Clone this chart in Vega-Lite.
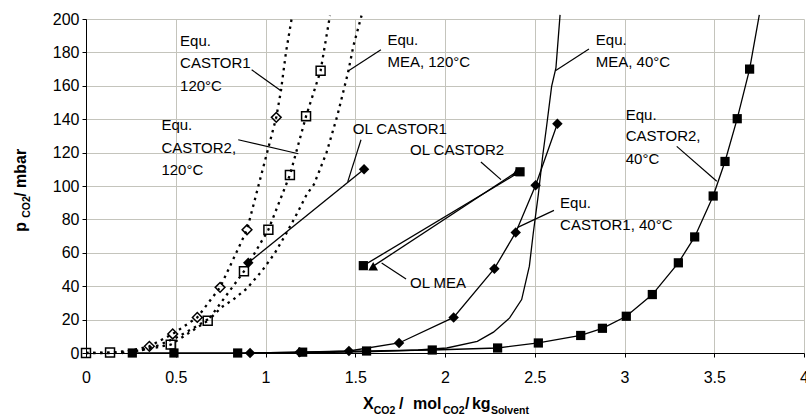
{
  "$schema": "https://vega.github.io/schema/vega-lite/v6.json",
  "width": 718,
  "height": 334,
  "autosize": {"type": "none"},
  "padding": {"left": 86, "top": 19, "right": 2, "bottom": 65},
  "background": "white",
  "config": {
    "view": {"stroke": null},
    "font": "Liberation Sans",
    "axis": {
      "gridColor": "#c4c4bc",
      "gridWidth": 1,
      "domainColor": "black",
      "domainWidth": 1,
      "tickColor": "black",
      "tickSize": 4,
      "labelColor": "black",
      "labelFont": "Liberation Sans",
      "labelFontSize": 16,
      "labelOverlap": false
    }
  },
  "datasets": {
    "curves": [
      {"s": "C2_40", "x": 0.258, "y": 0, "k": "sq"},
      {"s": "C2_40", "x": 0.49, "y": 0, "k": "sq"},
      {"s": "C2_40", "x": 0.845, "y": 0, "k": "sq"},
      {"s": "C2_40", "x": 1.207, "y": 0.5, "k": "sq"},
      {"s": "C2_40", "x": 1.563, "y": 1.2, "k": "sq"},
      {"s": "C2_40", "x": 1.929, "y": 1.8, "k": "sq"},
      {"s": "C2_40", "x": 2.293, "y": 3, "k": "sq"},
      {"s": "C2_40", "x": 2.52, "y": 6, "k": "sq"},
      {"s": "C2_40", "x": 2.756, "y": 10.5, "k": "sq"},
      {"s": "C2_40", "x": 2.877, "y": 14.8, "k": "sq"},
      {"s": "C2_40", "x": 3.01, "y": 22, "k": "sq"},
      {"s": "C2_40", "x": 3.155, "y": 35, "k": "sq"},
      {"s": "C2_40", "x": 3.3, "y": 54, "k": "sq"},
      {"s": "C2_40", "x": 3.391, "y": 69.5, "k": "sq"},
      {"s": "C2_40", "x": 3.494, "y": 94, "k": "sq"},
      {"s": "C2_40", "x": 3.56, "y": 114.7, "k": "sq"},
      {"s": "C2_40", "x": 3.628, "y": 140.3, "k": "sq"},
      {"s": "C2_40", "x": 3.697, "y": 170, "k": "sq"},
      {"s": "C2_40", "x": 3.751, "y": 202.5, "k": ""},

      {"s": "C1_40", "x": 0.914, "y": 0, "k": "di"},
      {"s": "C1_40", "x": 1.19, "y": 0.5, "k": "di"},
      {"s": "C1_40", "x": 1.465, "y": 1.2, "k": "di"},
      {"s": "C1_40", "x": 1.744, "y": 6, "k": "di"},
      {"s": "C1_40", "x": 2.048, "y": 21.3, "k": "di"},
      {"s": "C1_40", "x": 2.275, "y": 50.5, "k": "di"},
      {"s": "C1_40", "x": 2.394, "y": 72.2, "k": "di"},
      {"s": "C1_40", "x": 2.505, "y": 100.4, "k": "di"},
      {"s": "C1_40", "x": 2.626, "y": 137.3, "k": "di"},

      {"s": "MEA_40", "x": 0.9, "y": 0, "k": ""},
      {"s": "MEA_40", "x": 1.3, "y": 0.3, "k": ""},
      {"s": "MEA_40", "x": 1.6, "y": 0.8, "k": ""},
      {"s": "MEA_40", "x": 1.85, "y": 1.8, "k": ""},
      {"s": "MEA_40", "x": 2.01, "y": 3, "k": ""},
      {"s": "MEA_40", "x": 2.18, "y": 7, "k": ""},
      {"s": "MEA_40", "x": 2.27, "y": 12.5, "k": ""},
      {"s": "MEA_40", "x": 2.36, "y": 21, "k": ""},
      {"s": "MEA_40", "x": 2.427, "y": 32, "k": ""},
      {"s": "MEA_40", "x": 2.47, "y": 52, "k": ""},
      {"s": "MEA_40", "x": 2.492, "y": 72, "k": ""},
      {"s": "MEA_40", "x": 2.52, "y": 95, "k": ""},
      {"s": "MEA_40", "x": 2.544, "y": 117.8, "k": ""},
      {"s": "MEA_40", "x": 2.566, "y": 135.8, "k": ""},
      {"s": "MEA_40", "x": 2.594, "y": 159.7, "k": ""},
      {"s": "MEA_40", "x": 2.618, "y": 170.7, "k": ""},
      {"s": "MEA_40", "x": 2.641, "y": 202.5, "k": ""},

      {"s": "C1_120", "x": 0, "y": 0, "k": ""},
      {"s": "C1_120", "x": 0.134, "y": 0, "k": ""},
      {"s": "C1_120", "x": 0.23, "y": 1, "k": ""},
      {"s": "C1_120", "x": 0.353, "y": 4, "k": "odi"},
      {"s": "C1_120", "x": 0.483, "y": 11.4, "k": "odi"},
      {"s": "C1_120", "x": 0.62, "y": 21.3, "k": "odi"},
      {"s": "C1_120", "x": 0.747, "y": 39.3, "k": "odi"},
      {"s": "C1_120", "x": 0.897, "y": 73.8, "k": "odi"},
      {"s": "C1_120", "x": 1.06, "y": 141.1, "k": "odi"},
      {"s": "C1_120", "x": 1.086, "y": 157, "k": ""},
      {"s": "C1_120", "x": 1.114, "y": 180, "k": ""},
      {"s": "C1_120", "x": 1.148, "y": 201.7, "k": ""},

      {"s": "C2_120", "x": 0, "y": 0, "k": "osq"},
      {"s": "C2_120", "x": 0.134, "y": 0.3, "k": "osq"},
      {"s": "C2_120", "x": 0.3, "y": 1.5, "k": ""},
      {"s": "C2_120", "x": 0.472, "y": 5, "k": "osq"},
      {"s": "C2_120", "x": 0.678, "y": 19.3, "k": "osq"},
      {"s": "C2_120", "x": 0.88, "y": 48.9, "k": "osq"},
      {"s": "C2_120", "x": 1.016, "y": 73.8, "k": "osq"},
      {"s": "C2_120", "x": 1.136, "y": 106.6, "k": "osq"},
      {"s": "C2_120", "x": 1.226, "y": 141.8, "k": "osq"},
      {"s": "C2_120", "x": 1.307, "y": 169, "k": "osq"},
      {"s": "C2_120", "x": 1.359, "y": 202, "k": ""},

      {"s": "MEA_120", "x": 0.2, "y": 0, "k": ""},
      {"s": "MEA_120", "x": 0.3, "y": 1.5, "k": ""},
      {"s": "MEA_120", "x": 0.4, "y": 4.5, "k": ""},
      {"s": "MEA_120", "x": 0.5, "y": 9, "k": ""},
      {"s": "MEA_120", "x": 0.6, "y": 15, "k": ""},
      {"s": "MEA_120", "x": 0.7, "y": 21.5, "k": ""},
      {"s": "MEA_120", "x": 0.756, "y": 27.5, "k": ""},
      {"s": "MEA_120", "x": 0.82, "y": 32, "k": ""},
      {"s": "MEA_120", "x": 0.895, "y": 38.5, "k": ""},
      {"s": "MEA_120", "x": 0.979, "y": 49, "k": ""},
      {"s": "MEA_120", "x": 1.05, "y": 59.5, "k": ""},
      {"s": "MEA_120", "x": 1.118, "y": 72, "k": ""},
      {"s": "MEA_120", "x": 1.183, "y": 85, "k": ""},
      {"s": "MEA_120", "x": 1.23, "y": 95, "k": ""},
      {"s": "MEA_120", "x": 1.27, "y": 101, "k": ""},
      {"s": "MEA_120", "x": 1.3, "y": 109, "k": ""},
      {"s": "MEA_120", "x": 1.34, "y": 120, "k": ""},
      {"s": "MEA_120", "x": 1.37, "y": 131, "k": ""},
      {"s": "MEA_120", "x": 1.4, "y": 142, "k": ""},
      {"s": "MEA_120", "x": 1.43, "y": 155, "k": ""},
      {"s": "MEA_120", "x": 1.46, "y": 168, "k": ""},
      {"s": "MEA_120", "x": 1.49, "y": 184, "k": ""},
      {"s": "MEA_120", "x": 1.535, "y": 202, "k": ""},

      {"s": "OL_C1", "x": 0.904, "y": 54, "k": "di"},
      {"s": "OL_C1", "x": 1.549, "y": 110, "k": "di"},
      {"s": "OL_MEA", "x": 1.6, "y": 52, "k": "tri"},
      {"s": "OL_MEA", "x": 2.4, "y": 108.5, "k": "tri"},
      {"s": "OL_C2", "x": 1.545, "y": 52.3, "k": "sq"},
      {"s": "OL_C2", "x": 2.418, "y": 108.5, "k": "sq"}
    ],
    "notes": [
      {"x": 0.524, "y": 186.6, "t": "Equ."},
      {"x": 0.524, "y": 173.4, "t": "CASTOR1"},
      {"x": 0.524, "y": 159.8, "t": "120°C"},
      {"x": 0.42, "y": 136.7, "t": "Equ."},
      {"x": 0.42, "y": 123.0, "t": "CASTOR2,"},
      {"x": 0.42, "y": 109.6, "t": "120°C"},
      {"x": 1.679, "y": 187.6, "t": "Equ."},
      {"x": 1.679, "y": 174.3, "t": "MEA, 120°C"},
      {"x": 1.486, "y": 134.1, "t": "OL CASTOR1"},
      {"x": 1.805, "y": 121.3, "t": "OL CASTOR2"},
      {"x": 1.805, "y": 41.9, "t": "OL MEA"},
      {"x": 2.84, "y": 187.2, "t": "Equ."},
      {"x": 2.84, "y": 174.0, "t": "MEA, 40°C"},
      {"x": 3.007, "y": 142.7, "t": "Equ."},
      {"x": 3.007, "y": 129.7, "t": "CASTOR2,"},
      {"x": 3.007, "y": 116.2, "t": "40°C"},
      {"x": 2.641, "y": 90.0, "t": "Equ."},
      {"x": 2.641, "y": 76.8, "t": "CASTOR1, 40°C"}
    ],
    "leaders": [
      {"x": 0.923, "y": 169.6, "x2": 1.086, "y2": 157},
      {"x": 0.848, "y": 127.7, "x2": 1.183, "y2": 119.3},
      {"x": 1.643, "y": 181.6, "x2": 1.465, "y2": 169.2},
      {"x": 1.532, "y": 127.7, "x2": 1.458, "y2": 102.5},
      {"x": 2.2, "y": 114.4, "x2": 2.312, "y2": 103.8},
      {"x": 1.647, "y": 53.9, "x2": 1.783, "y2": 44.3},
      {"x": 2.802, "y": 182, "x2": 2.617, "y2": 169.2},
      {"x": 3.291, "y": 123.7, "x2": 3.514, "y2": 102.8},
      {"x": 2.607, "y": 85.4, "x2": 2.405, "y2": 75.2}
    ],
    "titles": [
      {"a": "x", "k": "main", "x": 1.543, "y": -33.8, "t": "X"},
      {"a": "x", "k": "sub", "x": 1.603, "y": -36.8, "t": "CO2"},
      {"a": "x", "k": "main", "x": 1.744, "y": -33.8, "t": "/"},
      {"a": "x", "k": "main", "x": 1.822, "y": -33.8, "t": "mol"},
      {"a": "x", "k": "sub", "x": 1.989, "y": -36.8, "t": "CO2"},
      {"a": "x", "k": "main", "x": 2.111, "y": -33.8, "t": "/"},
      {"a": "x", "k": "main", "x": 2.15, "y": -33.8, "t": "kg"},
      {"a": "x", "k": "sub", "x": 2.256, "y": -36.8, "t": "Solvent"},
      {"a": "y", "k": "main", "x": -0.334, "y": 72.6, "t": "p"},
      {"a": "y", "k": "sub", "x": -0.312, "y": 81.0, "t": "CO2"},
      {"a": "y", "k": "main", "x": -0.334, "y": 93.5, "t": "/ mbar"}
    ]
  },
  "encoding": {
    "x": {
      "field": "x", "type": "quantitative",
      "scale": {"domain": [0, 4], "nice": false, "zero": false},
      "axis": {
        "values": [0, 0.5, 1, 1.5, 2, 2.5, 3, 3.5, 4],
        "labelExpr": "'' + datum.value",
        "grid": true,
        "title": null,
        "labelPadding": 12,
        "labelFlush": false
      }
    },
    "y": {
      "field": "y", "type": "quantitative",
      "scale": {"domain": [0, 200], "nice": false},
      "axis": {
        "values": [0, 20, 40, 60, 80, 100, 120, 140, 160, 180, 200],
        "grid": true,
        "title": null,
        "labelPadding": 3,
        "labelFlush": false
      }
    }
  },
  "layer": [
    {
      "data": {"name": "curves"},
      "transform": [{"filter": {"field": "s", "oneOf": ["C2_40", "C1_40", "MEA_40", "OL_C1", "OL_C2", "OL_MEA"]}}],
      "mark": {"type": "line", "color": "black", "strokeWidth": 1.3},
      "encoding": {"detail": {"field": "s"}}
    },
    {
      "data": {"name": "curves"},
      "transform": [{"filter": {"field": "s", "oneOf": ["C1_120", "C2_120", "MEA_120"]}}],
      "mark": {"type": "line", "color": "black", "strokeWidth": 2.3, "strokeDash": [2.5, 4.5]},
      "encoding": {"detail": {"field": "s"}}
    },
    {
      "data": {"name": "leaders"},
      "mark": {"type": "rule", "color": "black", "strokeWidth": 1.2},
      "encoding": {
        "x2": {"field": "x2"},
        "y2": {"field": "y2"}
      }
    },
    {
      "data": {"name": "curves"},
      "transform": [{"filter": "datum.k === 'tri'"}],
      "mark": {"type": "point", "shape": "triangle-up", "filled": true, "color": "black", "opacity": 1, "size": 95}
    },
    {
      "data": {"name": "curves"},
      "transform": [{"filter": "datum.k === 'sq'"}],
      "mark": {"type": "point", "shape": "square", "filled": true, "color": "black", "opacity": 1, "size": 85}
    },
    {
      "data": {"name": "curves"},
      "transform": [{"filter": "datum.k === 'di'"}],
      "mark": {"type": "point", "shape": "diamond", "filled": true, "color": "black", "opacity": 1, "size": 110}
    },
    {
      "data": {"name": "curves"},
      "transform": [{"filter": "datum.k === 'osq'"}],
      "mark": {"type": "point", "shape": "square", "filled": false, "color": "black", "opacity": 1, "strokeWidth": 1.5, "size": 80}
    },
    {
      "data": {"name": "curves"},
      "transform": [{"filter": "datum.k === 'odi'"}],
      "mark": {"type": "point", "shape": "diamond", "filled": false, "color": "black", "opacity": 1, "strokeWidth": 1.5, "size": 95}
    },
    {
      "data": {"name": "notes"},
      "mark": {"type": "text", "align": "left", "baseline": "middle", "fontSize": 15, "color": "black", "font": "Liberation Sans"},
      "encoding": {"text": {"field": "t"}}
    },
    {
      "data": {"name": "titles"},
      "transform": [{"filter": "datum.a === 'x' && datum.k === 'main'"}],
      "mark": {"type": "text", "align": "left", "baseline": "alphabetic", "fontSize": 16, "fontWeight": "bold", "color": "black", "font": "Liberation Sans"},
      "encoding": {"text": {"field": "t"}}
    },
    {
      "data": {"name": "titles"},
      "transform": [{"filter": "datum.a === 'x' && datum.k === 'sub'"}],
      "mark": {"type": "text", "align": "left", "baseline": "alphabetic", "fontSize": 10.5, "fontWeight": "bold", "color": "black", "font": "Liberation Sans"},
      "encoding": {"text": {"field": "t"}}
    },
    {
      "data": {"name": "titles"},
      "transform": [{"filter": "datum.a === 'y' && datum.k === 'main'"}],
      "mark": {"type": "text", "align": "left", "baseline": "alphabetic", "angle": 270, "fontSize": 16, "fontWeight": "bold", "color": "black", "font": "Liberation Sans"},
      "encoding": {"text": {"field": "t"}}
    },
    {
      "data": {"name": "titles"},
      "transform": [{"filter": "datum.a === 'y' && datum.k === 'sub'"}],
      "mark": {"type": "text", "align": "left", "baseline": "alphabetic", "angle": 270, "fontSize": 10.5, "fontWeight": "bold", "color": "black", "font": "Liberation Sans"},
      "encoding": {"text": {"field": "t"}}
    }
  ]
}
